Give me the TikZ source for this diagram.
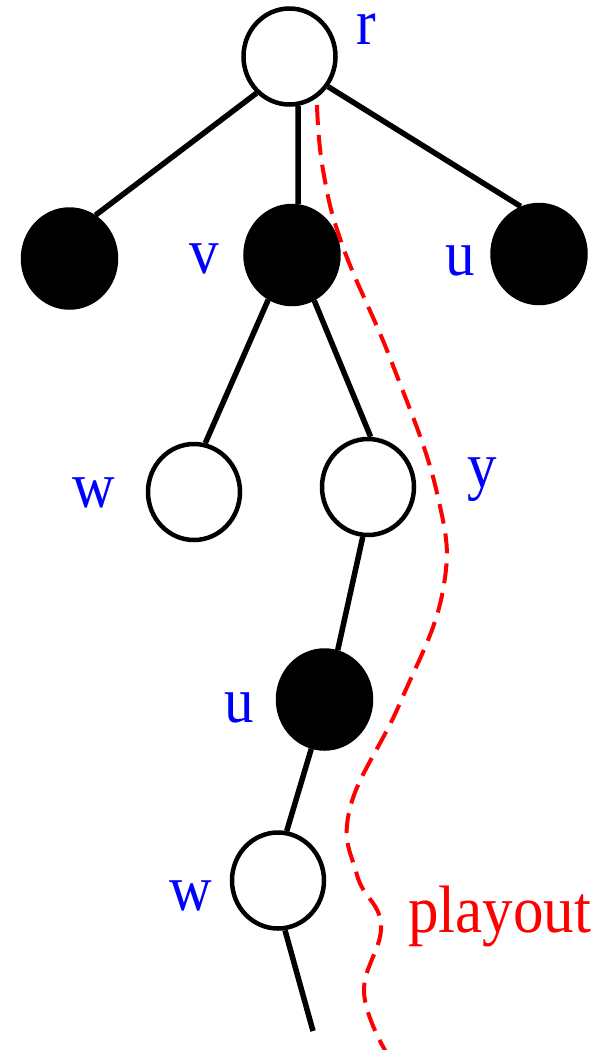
\documentclass[tikz,border=0pt]{standalone}
\usepackage{fontspec}
\setmainfont{Liberation Serif}
\usepackage{graphicx}
\usetikzlibrary{shapes.geometric}
\begin{document}
\begin{tikzpicture}[x=1pt,y=-1pt,
  wnode/.style={ellipse, draw=black, fill=white, line width=4.5pt, minimum width=92pt, minimum height=96pt, inner sep=0pt},
  bnode/.style={ellipse, draw=black, fill=black, line width=4.5pt, minimum width=93pt, minimum height=98pt, inner sep=0pt},
  conn/.style={line width=5.5pt},
  lbl/.style={text=blue, font=\fontsize{59}{61}\selectfont, anchor=base, inner sep=0pt},
  plbl/.style={text=red, font=\fontsize{61}{63}\selectfont, anchor=base, inner sep=0pt},
  playpath/.style={draw=red, line width=4pt, dash pattern=on 20pt off 10pt}
]
\useasboundingbox[fill=white] (0,0) rectangle (606,1050);
% nodes
\node[wnode] (r)  at (289.5,56.5) {};
\node[bnode] (b1) at (69.5,258.5) {};
\node[bnode] (v)  at (292,255) {};
\node[bnode] (u1) at (539,254) {};
\node[wnode] (w1) at (194,492) {};
\node[wnode] (y)  at (368,487) {};
\node[bnode] (u2) at (324.5,699.5) {};
\node[wnode] (w2) at (278,880.5) {};
\coordinate (tail) at (313,1031);
% edges
\draw[conn] (r.228) -- (b1.59);
\draw[conn] (r.280) -- (v.83);
\draw[conn] (r.322) -- (u1.111);
\draw[conn] (v.242) -- (w1.77);
\draw[conn] (v.296) -- (y.87);
\draw[conn] (y.264) -- (u2.75);
\draw[conn] (u2.255) -- (w2.80);
\draw[conn] (w2.278) -- (tail);
% labels
\node[lbl] (lr)  at (366.5,44) {\scalebox{1}[1.1]{r}};
\node[lbl] (lv)  at (204,273) {\scalebox{1}[1.1]{v}};
\node[lbl] (lu1) at (460.5,275) {\scalebox{1}[1.1]{u}};
\node[lbl] (lw1) at (93.5,507) {\scalebox{1}[1.1]{w}};
\node[lbl] (ly)  at (482,487) {\scalebox{1}[1.1]{y}};
\node[lbl] (lu2) at (239.5,722) {\scalebox{1}[1.1]{u}};
\node[lbl] (lw2) at (191,910) {\scalebox{1}[1.1]{w}};
% playout
\draw[playpath] plot[smooth, tension=0.7] coordinates {(317,105) (323,170) (343,247) (392,363) (437,493) (443,590) (400,703) (350,808) (357,875) (381,925) (364,992) (386,1052)};
\node[plbl] (pl) at (499.5,932) {\scalebox{1}[1.1]{playout}};
\end{tikzpicture}
\end{document}
